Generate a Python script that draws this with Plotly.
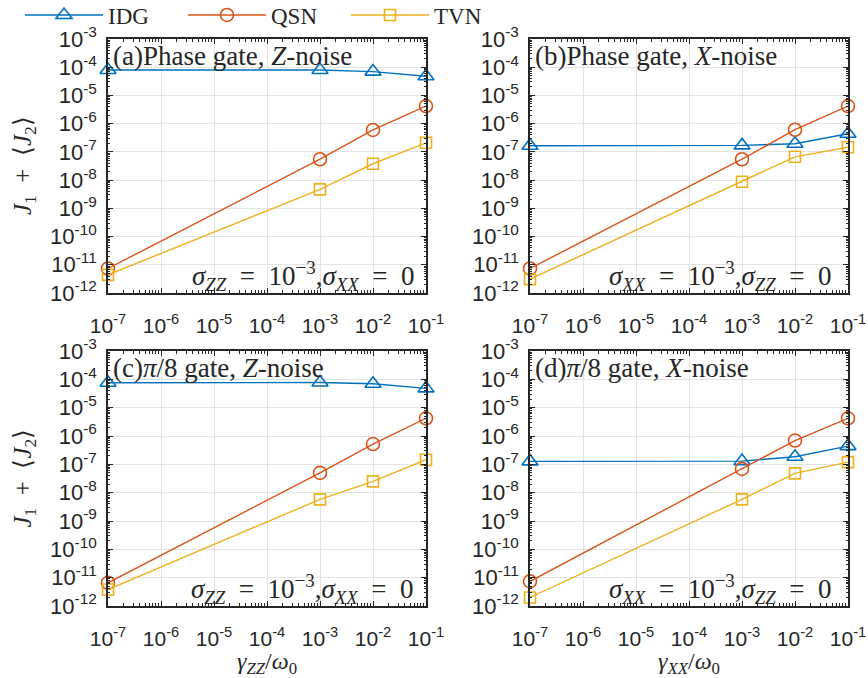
import plotly.graph_objects as go

# ---- data ----
gamma = [1e-7, 1e-3, 1e-2, 1e-1]

series_names = ["IDG", "QSN", "TVN"]

# panel (a) Phase gate, Z-noise
a_idg = [8.0e-5, 8.0e-5, 7.0e-5, 4.8e-5]
a_qsn = [7.4e-12, 5.5e-8, 6.0e-7, 4.2e-6]
a_tvn = [4.4e-12, 4.7e-9, 3.8e-8, 2.1e-7]
# panel (b) Phase gate, X-noise
b_idg = [1.66e-7, 1.7e-7, 1.95e-7, 4.4e-7]
b_qsn = [7.4e-12, 5.5e-8, 6.1e-7, 4.2e-6]
b_tvn = [3.1e-12, 8.8e-9, 6.7e-8, 1.46e-7]
# panel (c) pi/8 gate, Z-noise
c_idg = [7.6e-5, 7.7e-5, 7.0e-5, 4.8e-5]
c_qsn = [6.6e-12, 5.0e-8, 5.2e-7, 4.2e-6]
c_tvn = [3.8e-12, 5.8e-9, 2.5e-8, 1.46e-7]
# panel (d) pi/8 gate, X-noise
d_idg = [1.27e-7, 1.3e-7, 1.85e-7, 4.4e-7]
d_qsn = [7.4e-12, 6.9e-8, 6.9e-7, 4.2e-6]
d_tvn = [2.0e-12, 5.8e-9, 4.8e-8, 1.2e-7]

x_tickvals = [1e-7, 1e-6, 1e-5, 1e-4, 1e-3, 1e-2, 1e-1]
x_ticktext = ["10<sup>-7</sup>", "10<sup>-6</sup>", "10<sup>-5</sup>", "10<sup>-4</sup>",
              "10<sup>-3</sup>", "10<sup>-2</sup>", "10<sup>-1</sup>"]
y_tickvals = [1e-12, 1e-11, 1e-10, 1e-9, 1e-8, 1e-7, 1e-6, 1e-5, 1e-4, 1e-3]
y_ticktext = ["10<sup>-12</sup>", "10<sup>-11</sup>", "10<sup>-10</sup>", "10<sup>-9</sup>",
              "10<sup>-8</sup>", "10<sup>-7</sup>", "10<sup>-6</sup>", "10<sup>-5</sup>",
              "10<sup>-4</sup>", "10<sup>-3</sup>"]

EQ = "\u2002=\u2002"
panel_titles = ["(a)Phase gate, <i>Z</i>-noise",
                "(b)Phase gate, <i>X</i>-noise",
                "(c)<i>π</i>/8 gate, <i>Z</i>-noise",
                "(d)<i>π</i>/8 gate, <i>X</i>-noise"]
panel_notes = ["<i>σ<sub>ZZ</sub></i>" + EQ + "10<sup>−3</sup>,<i>σ<sub>XX</sub></i>" + EQ + "0",
               "<i>σ<sub>XX</sub></i>" + EQ + "10<sup>−3</sup>,<i>σ<sub>ZZ</sub></i>" + EQ + "0",
               "<i>σ<sub>ZZ</sub></i>" + EQ + "10<sup>−3</sup>,<i>σ<sub>XX</sub></i>" + EQ + "0",
               "<i>σ<sub>XX</sub></i>" + EQ + "10<sup>−3</sup>,<i>σ<sub>ZZ</sub></i>" + EQ + "0"]
x_titles = ["<i>γ<sub>ZZ</sub></i>/<i>ω</i><sub>0</sub>", "<i>γ<sub>XX</sub></i>/<i>ω</i><sub>0</sub>"]
y_title = "<i>J</i><sub>1</sub>\u2002+\u2002⟨<i>J</i><sub>2</sub>⟩"

panels = [(a_idg, a_qsn, a_tvn), (b_idg, b_qsn, b_tvn),
          (c_idg, c_qsn, c_tvn), (d_idg, d_qsn, d_tvn)]

# ---- style ----
colors = ["#0072BD", "#D95319", "#EDB120"]
symbols = ["triangle-up-open", "circle-open", "square-open"]
msizes = [14, 13, 11]
W, H = 868, 678
xdoms = [(108 / W, 426 / W), (530 / W, 848 / W)]
ydoms = [(1 - 293 / H, 1 - 39 / H), (1 - 606 / H, 1 - 351 / H)]
note_x = [0.972, 0.955, 0.97, 0.956]
serif = "Liberation Serif"
sans = "Liberation Sans, Arial"
ink = "#262626"

fig = go.Figure()
for p, data in enumerate(panels):
    ax = "" if p == 0 else str(p + 1)
    for s in range(3):
        fig.add_trace(go.Scatter(
            x=gamma, y=data[s], mode="lines+markers", name=series_names[s],
            xaxis="x" + ax, yaxis="y" + ax, showlegend=(p == 0),
            line=dict(color=colors[s], width=1.4),
            marker=dict(symbol=symbols[s], size=msizes[s], color=colors[s],
                        line=dict(width=1.6, color=colors[s])),
            cliponaxis=False))

minor_x = [m * 10 ** e for e in range(-7, -1) for m in range(2, 10)]
minor_y = [m * 10 ** e for e in range(-12, -3) for m in range(2, 10)]

layout = dict(
    width=W, height=H, margin=dict(l=0, r=0, t=0, b=0, autoexpand=False),
    plot_bgcolor="white", paper_bgcolor="white",
    font=dict(family=sans, color=ink, size=17),
    legend=dict(orientation="h", x=20 / W, y=1 - 15 / H, xanchor="left", yanchor="middle",
                font=dict(family=serif, size=23, color=ink),
                entrywidth=70, entrywidthmode="pixels",
                bgcolor="rgba(0,0,0,0)", itemwidth=78, tracegroupgap=0),
    annotations=[],
)
for p in range(4):
    r, c = divmod(p, 2)
    ax = "" if p == 0 else str(p + 1)
    xa = dict(type="log", range=[-7.00001, -0.99999], domain=list(xdoms[c]), anchor="y" + ax,
              tickmode="array", tickvals=x_tickvals, ticktext=x_ticktext,
              ticks="inside", ticklen=5, tickwidth=1, tickcolor=ink,
              showline=True, linecolor=ink, linewidth=1.5, mirror="allticks",
              showgrid=True, gridcolor="#e3e3e3", gridwidth=1, zeroline=False,
              ticklabelstandoff=13,
              minor=dict(tickmode="array", tickvals=minor_x, ticks="inside",
                         ticklen=3, tickcolor=ink, showgrid=False),
              tickfont=dict(family=sans, size=21, color=ink))
    if r == 1:
        xa["title"] = dict(text=x_titles[c], font=dict(family=serif, size=24, color=ink),
                           standoff=2)
    ya = dict(type="log", range=[-12.00001, -2.99999], domain=list(ydoms[r]), anchor="x" + ax,
              tickmode="array", tickvals=y_tickvals, ticktext=y_ticktext,
              ticks="inside", ticklen=5, tickwidth=1, tickcolor=ink,
              showline=True, linecolor=ink, linewidth=1.5, mirror="allticks",
              showgrid=True, gridcolor="#e3e3e3", gridwidth=1, zeroline=False,
              ticklabelstandoff=5,
              minor=dict(tickmode="array", tickvals=minor_y, ticks="inside",
                         ticklen=2, tickcolor=ink, showgrid=False),
              tickfont=dict(family=sans, size=22, color=ink))
    layout["xaxis" + ax] = xa
    layout["yaxis" + ax] = ya
    if c == 0:
        layout["annotations"].append(dict(
            text=y_title, xref="paper", yref="y" + ax + " domain",
            x=24 / W, y=0.5, xanchor="center", yanchor="middle", textangle=-90,
            showarrow=False, font=dict(family=serif, size=25, color=ink)))
    layout["annotations"].append(dict(
        text=panel_titles[p], xref="x" + ax + " domain", yref="y" + ax + " domain",
        x=0.008, y=0.935, xanchor="left", yanchor="middle", showarrow=False,
        font=dict(family=serif, size=27, color=ink)))
    layout["annotations"].append(dict(
        text=panel_notes[p], xref="x" + ax + " domain", yref="y" + ax + " domain",
        x=note_x[p], y=-0.015, xanchor="right", yanchor="bottom", showarrow=False,
        font=dict(family=serif, size=27, color=ink)))

fig.update_layout(**layout)
fig.write_html("out.html")
